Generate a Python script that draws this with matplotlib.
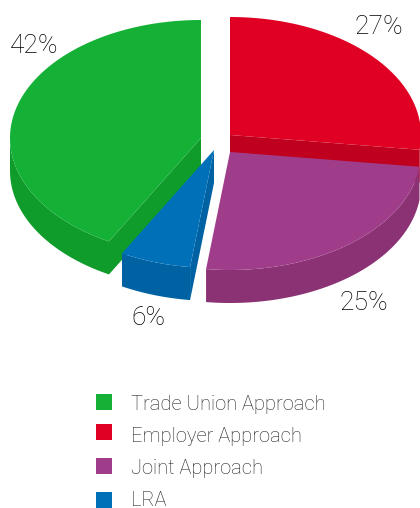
import numpy as np
import matplotlib
matplotlib.use("Agg")
import matplotlib.pyplot as plt
from matplotlib.patches import Polygon, Rectangle

# shares, in the clockwise order they sit on the pie starting from 12 o'clock
pie_names = ['Employer Approach', 'Joint Approach', 'LRA', 'Trade Union Approach']
pie_shares = [27, 25, 6, 42]

legend_names = ['Trade Union Approach', 'Employer Approach', 'Joint Approach', 'LRA']

top_colors = {'Trade Union Approach': '#14b136', 'Employer Approach': '#e00024',
              'Joint Approach': '#a03d8b', 'LRA': '#0071b8'}
side_colors = {'Trade Union Approach': '#0f9c2a', 'Employer Approach': '#c0001f',
               'Joint Approach': '#8b3275', 'LRA': '#0062a3'}

# each slice is pulled out of the pie on its own
centers = {'Employer Approach': (230, 135), 'Joint Approach': (230, 152),
           'LRA': (214, 150), 'Trade Union Approach': (201, 138)}
label_pos = {'Trade Union Approach': (34, 46), 'Employer Approach': (379, 27),
             'Joint Approach': (364, 303), 'LRA': (148, 318)}
draw_order = ['Employer Approach', 'Trade Union Approach', 'Joint Approach', 'LRA']

rx, ry = 191, 118
depth = 33

plt.rcParams['font.family'] = ['Roboto', 'DejaVu Sans']
plt.rcParams['font.weight'] = 'light'

fig = plt.figure(figsize=(4.2, 5.08), dpi=100)
ax = fig.add_axes([0, 0, 1, 1])
ax.set_xlim(0, 420)
ax.set_ylim(508, 0)
ax.axis('off')


def rim(center, a0, a1, dy=0):
    # points on the ellipse, angles in degrees clockwise from the top
    t = np.radians(np.linspace(a0, a1, 120))
    return np.column_stack([center[0] + rx * np.sin(t),
                            center[1] - ry * np.cos(t) + dy])


# angle range of every slice from its share
ends = np.cumsum(pie_shares) * 3.6
angles = {n: (e - s * 3.6, e) for n, s, e in zip(pie_names, pie_shares, ends)}

for name in draw_order:
    c = centers[name]
    a0, a1 = angles[name]
    dark = side_colors[name]

    # outer wall, only the part turned to the front
    f0, f1 = max(a0, 90), min(a1, 270)
    if f1 > f0:
        upper = rim(c, f0, f1)
        lower = rim(c, f0, f1, depth)
        ax.add_patch(Polygon(np.vstack([upper, lower[::-1]]), fc=dark, lw=0))

    # cut faces, drawn when they look towards the viewer
    for a, show in ((a0, np.sin(np.radians(a0)) < -1e-6),
                    (a1, np.sin(np.radians(a1)) > 1e-6)):
        if show:
            p = rim(c, a, a)[0]
            quad = [c, p, (p[0], p[1] + depth), (c[0], c[1] + depth)]
            ax.add_patch(Polygon(quad, fc=dark, lw=0))

    # top face
    ax.add_patch(Polygon(np.vstack([[c], rim(c, a0, a1)]),
                         fc=top_colors[name], lw=0))

for name, share in zip(pie_names, pie_shares):
    x, y = label_pos[name]
    ax.text(x, y, f'{share}%', fontsize=19, color='#000000',
            ha='center', va='center')

# legend
legend_y = [402, 432, 466, 500]
text_y = [404, 436, 468, 500]
for name, sy, ty in zip(legend_names, legend_y, text_y):
    ax.add_patch(Rectangle((96, sy - 8), 16, 16, fc=top_colors[name], lw=0))
    ax.text(131, ty, name, fontsize=14.5, color='#222222', ha='left', va='center')

fig.savefig('out.png', dpi=100)
